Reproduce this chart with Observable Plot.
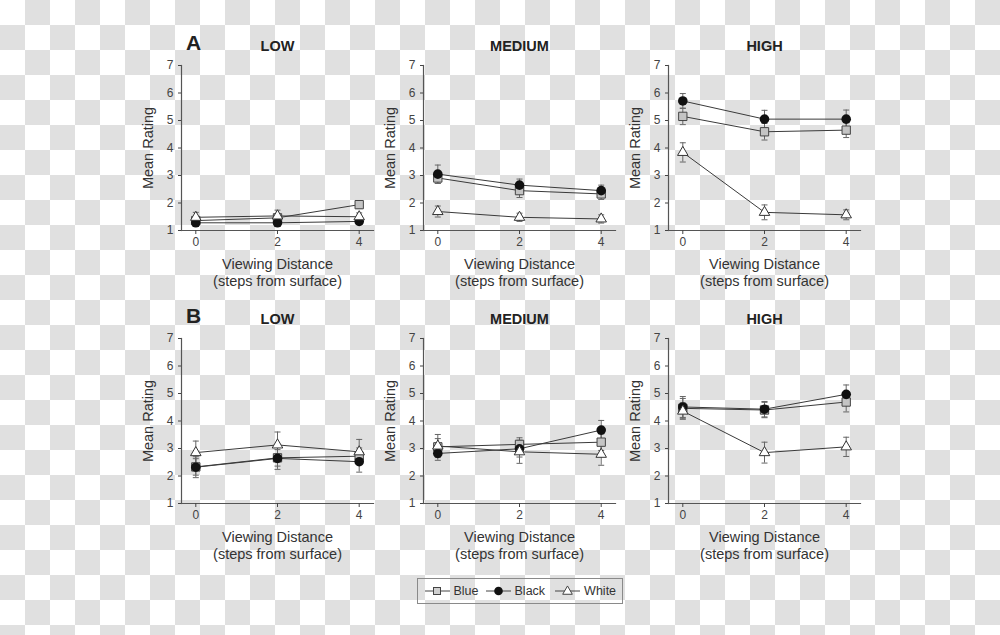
<!DOCTYPE html>
<html><head><meta charset="utf-8">
<script src="https://cdn.jsdelivr.net/npm/d3@7"></script>
<script src="https://cdn.jsdelivr.net/npm/@observablehq/plot@0.6"></script>
<style>
html,body{margin:0;padding:0;}
#chart{position:relative;width:1000px;height:635px;overflow:hidden;background-color:#fff;
  background-image:repeating-conic-gradient(#e0e0e0 0 25%, #fff 0 50%);background-size:50px 50px;
  font-family:"Liberation Sans",Arial,Helvetica,sans-serif;}
.panel{position:absolute;}
#legend{position:absolute;left:416.5px;top:578px;width:206px;height:25.5px;box-sizing:border-box;
  border:1.5px solid #8a8a8a;display:flex;align-items:center;padding-left:7px;font-size:12.5px;color:#333;}
#legend .item{display:flex;align-items:center;}
#legend .item span{margin-left:4px;}
</style></head><body><div id="chart"></div>
<script>
// ---- data ----
const distances = [0, 2, 4];
const seriesNames = ["Blue", "Black", "White"];
const contrasts = ["LOW", "MEDIUM", "HIGH"];
const yTicks = [1, 2, 3, 4, 5, 6, 7];
const xTicks = [0, 2, 4];

// means per series (Blue, Black, White) at distances 0, 2, 4
const meanALow    = [[1.36, 1.46, 1.94], [1.28, 1.28, 1.33], [1.48, 1.53, 1.50]];
const errALow     = [[0.12, 0.12, 0.14], [0.10, 0.10, 0.10], [0.18, 0.21, 0.14]];
const meanAMedium = [[2.91, 2.45, 2.33], [3.05, 2.65, 2.45], [1.69, 1.48, 1.42]];
const errAMedium  = [[0.20, 0.25, 0.20], [0.33, 0.22, 0.20], [0.20, 0.15, 0.15]];
const meanAHigh   = [[5.15, 4.59, 4.65], [5.71, 5.05, 5.05], [3.84, 1.66, 1.57]];
const errAHigh    = [[0.30, 0.30, 0.27], [0.27, 0.32, 0.33], [0.35, 0.27, 0.18]];
const meanBLow    = [[2.33, 2.66, 2.72], [2.32, 2.64, 2.52], [2.85, 3.13, 2.88]];
const errBLow     = [[0.30, 0.30, 0.30], [0.38, 0.40, 0.38], [0.42, 0.47, 0.45]];
const meanBMedium = [[3.06, 3.15, 3.23], [2.82, 2.99, 3.67], [3.09, 2.88, 2.79]];
const errBMedium  = [[0.30, 0.24, 0.30], [0.25, 0.30, 0.35], [0.42, 0.42, 0.40]];
const meanBHigh   = [[4.46, 4.40, 4.69], [4.51, 4.43, 4.97], [4.36, 2.85, 3.06]];
const errBHigh    = [[0.36, 0.28, 0.36], [0.38, 0.28, 0.34], [0.30, 0.38, 0.35]];

const panels = [
  {row: "A", contrast: "LOW", mean: meanALow, err: errALow},
  {row: "A", contrast: "MEDIUM", mean: meanAMedium, err: errAMedium},
  {row: "A", contrast: "HIGH", mean: meanAHigh, err: errAHigh},
  {row: "B", contrast: "LOW", mean: meanBLow, err: errBLow},
  {row: "B", contrast: "MEDIUM", mean: meanBMedium, err: errBMedium},
  {row: "B", contrast: "HIGH", mean: meanBHigh, err: errBHigh}
];

// ---- layout ----
const FONT = '"Liberation Sans", Arial, Helvetica, sans-serif';
const ML = 55, MR = 13, MT = 40, MB = 60, FW = 192, FH = 165;
const colAxisX = [181, 422.5, 667.5];
const rowFrameTop = [64.5, 337.7];

const cap = {draw(ctx) { ctx.moveTo(-3, 0); ctx.lineTo(3, 0); }};

const chart = document.getElementById("chart");

panels.forEach((p, i) => {
  const data = [];
  seriesNames.forEach((s, si) => distances.forEach((d, di) => {
    data.push({x: d, series: s, mean: p.mean[si][di], err: p.err[si][di]});
  }));
  const showLetter = p.contrast === "LOW";
  const plot = Plot.plot({
    width: ML + FW + MR, height: MT + FH + MB,
    marginLeft: ML, marginRight: MR, marginTop: MT, marginBottom: MB,
    style: {background: "transparent", overflow: "visible", fontFamily: FONT, maxWidth: "none"},
    x: {domain: [-0.35, 4.35]},
    y: {domain: [1, 7]},
    marks: [
      Plot.frame({anchor: "left", stroke: "#555", strokeWidth: 1.2}),
      Plot.frame({anchor: "bottom", stroke: "#555", strokeWidth: 1.2}),
      Plot.axisY({ticks: yTicks, tickFormat: "d", tickSize: 3, tickPadding: 5, fontSize: 12, color: "#444", label: null}),
      Plot.axisX({ticks: xTicks, tickFormat: "d", tickSize: 4, tickPadding: 3, fontSize: 12, color: "#444", label: null}),
      Plot.ruleX(data, {x: "x", y1: d => d.mean - d.err, y2: d => d.mean + d.err, stroke: "#666", strokeWidth: 1}),
      Plot.dot(data, {x: "x", y: d => d.mean + d.err, symbol: cap, fill: "none", stroke: "#666", strokeWidth: 1}),
      Plot.dot(data, {x: "x", y: d => d.mean - d.err, symbol: cap, fill: "none", stroke: "#666", strokeWidth: 1}),
      Plot.line(data, {x: "x", y: "mean", z: "series", stroke: "#3a3a3a", strokeWidth: 1}),
      Plot.dot(data.filter(d => d.series === "Blue"), {x: "x", y: "mean", symbol: "square", r: 4.7, fill: "#c4c4c4", stroke: "#444", strokeWidth: 1}),
      Plot.dot(data.filter(d => d.series === "Black"), {x: "x", y: "mean", symbol: "circle", r: 4.8, fill: "#111", stroke: "none"}),
      Plot.dot(data.filter(d => d.series === "White"), {x: "x", y: "mean", symbol: "triangle", r: 3.9, fill: "#fff", stroke: "#333", strokeWidth: 1}),
      Plot.text([p.contrast], {frameAnchor: "top", dy: -19, lineAnchor: "middle", textAnchor: "middle", fontSize: 14.5, fontWeight: "bold", fill: "#222"}),
      showLetter ? Plot.text([p.row], {frameAnchor: "top-left", dx: 12, dy: -22, lineAnchor: "middle", textAnchor: "middle", fontSize: 21, fontWeight: "bold", fill: "#222"}) : null,
      Plot.text(["Mean Rating"], {frameAnchor: "left", dx: -33, rotate: -90, lineAnchor: "middle", textAnchor: "middle", fontSize: 14.5, fill: "#333"}),
      Plot.text(["Viewing Distance\n(steps from surface)"], {frameAnchor: "bottom", dy: 42, lineAnchor: "middle", textAnchor: "middle", lineHeight: 1.17, fontSize: 14.5, fill: "#333"})
    ]
  });
  const col = i % 3, row = Math.floor(i / 3);
  plot.classList.add("panel");
  plot.style.left = (colAxisX[col] - ML) + "px";
  plot.style.top = (rowFrameTop[row] - MT) + "px";
  chart.appendChild(plot);
});

// ---- legend ----
const legend = document.createElement("div");
legend.id = "legend";
const gaps = [0, 7, 10];
seriesNames.forEach((s, i) => {
  const item = document.createElement("div");
  item.className = "item";
  item.style.marginLeft = gaps[i] + "px";
  const svg = d3.create("svg").attr("width", 25).attr("height", 14);
  svg.append("line").attr("x1", 0).attr("x2", 25).attr("y1", 7).attr("y2", 7).attr("stroke", "#444");
  if (s === "Blue") svg.append("rect").attr("x", 8.5).attr("y", 3.5).attr("width", 7).attr("height", 7).attr("fill", "#d0d0d0").attr("stroke", "#444");
  if (s === "Black") svg.append("circle").attr("cx", 12.5).attr("cy", 7).attr("r", 4.3).attr("fill", "#111");
  if (s === "White") svg.append("path").attr("d", d3.symbol(d3.symbolTriangle, 40)()).attr("transform", "translate(12.5,7.5)").attr("fill", "#fff").attr("stroke", "#444");
  item.appendChild(svg.node());
  const t = document.createElement("span");
  t.textContent = s;
  item.appendChild(t);
  legend.appendChild(item);
});
chart.appendChild(legend);
</script>
</body></html>
